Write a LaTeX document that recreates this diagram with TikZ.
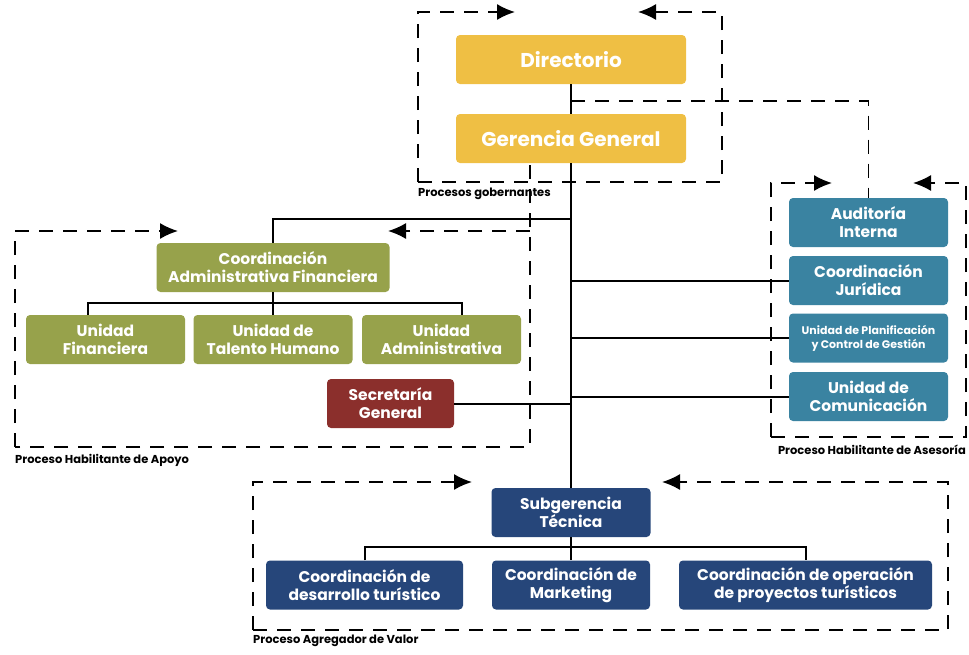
\documentclass[tikz,border=0pt]{standalone}
\usepackage{fontspec}
\setmainfont{Poppins}
\usepackage{xcolor}
\usetikzlibrary{arrows.meta}

\definecolor{oro}{RGB}{239,191,68}
\definecolor{oliva}{RGB}{151,162,75}
\definecolor{vino}{RGB}{139,47,44}
\definecolor{azulv}{RGB}{58,131,161}
\definecolor{marino}{RGB}{38,70,122}

\tikzset{
  caja/.style={rounded corners=4pt, text=white, align=center, inner sep=0pt,
    minimum height=49pt, font=\bfseries\fontsize{15.5}{18}\selectfont},
  marco/.style={line width=1.6pt, dash pattern=on 14pt off 10pt},
  flecha/.style={marco, -{Latex[length=18pt,width=16pt]}},
  etiqueta/.style={inner sep=0pt, font=\bfseries\fontsize{11.5}{13}\selectfont},
  linea/.style={line width=2pt}
}

\begin{document}
\begin{tikzpicture}[x=1pt, y=-1pt]
    \useasboundingbox (0,0) rectangle (969,654);

    % gobierno
    \node[caja, fill=oro, minimum width=230pt, font=\bfseries\fontsize{20}{22}\selectfont] (dir) at (571,59.5) {Directorio};
    \node[caja, fill=oro, minimum width=230pt, font=\bfseries\fontsize{20}{22}\selectfont] (ger) at (571,138.5) {Gerencia General};

    % apoyo
    \node[caja, fill=oliva, minimum width=233pt] (caf) at (273,267.5) {Coordinación\\Administrativa Financiera};
    \node[caja, fill=oliva, minimum width=159pt] (uf) at (105.5,339.5) {Unidad\\Financiera};
    \node[caja, fill=oliva, minimum width=159pt] (uth) at (273,339.5) {Unidad de\\Talento Humano};
    \node[caja, fill=oliva, minimum width=159pt] (ua) at (441.5,339.5) {Unidad\\Administrativa};
    \node[caja, fill=vino, minimum width=127pt] (sec) at (390.5,403.5) {Secretaría\\General};

    % asesoria
    \node[caja, fill=azulv, minimum width=159pt] (aud) at (868.5,222.5) {Auditoría\\Interna};
    \node[caja, fill=azulv, minimum width=159pt] (jur) at (868.5,280.5) {Coordinación\\Jurídica};
    \node[caja, fill=azulv, minimum width=159pt, font=\bfseries\fontsize{11}{14}\selectfont] (pla) at (868.5,338) {Unidad de Planificación\\y Control de Gestión};
    \node[caja, fill=azulv, minimum width=159pt] (com) at (868.5,396.5) {Unidad de\\Comunicación};

    % valor
    \node[caja, fill=marino, minimum width=159pt] (sub) at (571,512.5) {Subgerencia\\Técnica};
    \node[caja, fill=marino, minimum width=197pt] (des) at (364.5,585) {Coordinación de\\desarrollo turístico};
    \node[caja, fill=marino, minimum width=158pt] (mkt) at (571,585) {Coordinación de\\Marketing};
    \node[caja, fill=marino, minimum width=253pt] (ope) at (805.5,585) {Coordinación de operación\\de proyectos turísticos};

    % conectores
    \coordinate (g1) at (571,101);
    \coordinate (a1) at (571,219);
    \draw[linea] (dir) -- (ger);
    \draw[linea] (ger) -- (sub);
    \draw[linea] (a1) -| (caf);
    \draw[linea] (caf) -- (uth);
    \draw[linea] ([xshift=-18pt]uf.north) -- ++(0,-12) -| ([xshift=20pt]ua.north);
    \draw[linea] (sec.east) -- (sec.east -| ger.south);
    \draw[linea] (jur.west) -- (jur.west -| ger.south);
    \draw[linea] (pla.west) -- (pla.west -| ger.south);
    \draw[linea] (com.west) -- (com.west -| ger.south);
    \draw[linea] (sub) -- (mkt);
    \draw[linea] (des.north) -- ++(0,-13) -| (ope.north);
    \draw[marco] (g1) -| (aud);

    % marcos de procesos
    \draw[flecha] (418,182) -- (418,12) -- (515,12);
    \draw[flecha] (418,182) -- (722,182) -- (722,12) -- (638,12);
    \node[etiqueta, anchor=north west] (lgob) at (418,188) {Procesos gobernantes};

    \draw[flecha] (15,447) -- (15,231) -- (178,231);
    \draw[marco] (530,165) -- (530,447) -- (15,447);
    \draw[flecha] (530,231) -- (388,231);
    \node[etiqueta, anchor=north west] (lapo) at (15,454) {Proceso Habilitante de Apoyo};

    \draw[flecha] (771,437) -- (771,183) -- (832,183);
    \draw[flecha] (771,437) -- (966,437) -- (966,183) -- (913,183);
    \node[etiqueta, anchor=north east] (lase) at (966,445) {Proceso Habilitante de Asesoría};

    \draw[flecha] (253,630) -- (253,482) -- (472,482);
    \draw[flecha] (253,630) -- (948,630) -- (948,482) -- (662,482);
    \node[etiqueta, anchor=north west] (lval) at (253,635) {Proceso Agregador de Valor};
\end{tikzpicture}
\end{document}
